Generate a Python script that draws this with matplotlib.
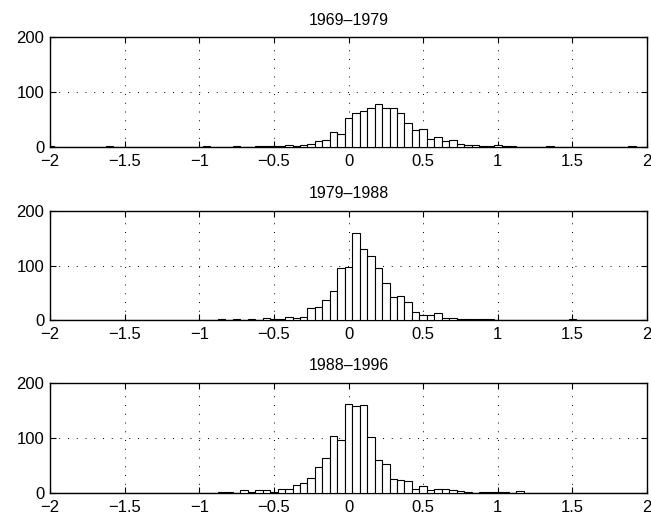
import numpy as np
import matplotlib
matplotlib.use("Agg")
import matplotlib.pyplot as plt

plt.rcParams['font.family'] = ['Liberation Sans', 'DejaVu Sans']

# histogram counts, bin centres -2:0.05:2 (81 bins)
counts_1969_1979 = [
    1, 0, 0, 0, 0, 0, 0, 0, 1, 0,
    0, 0, 0, 0, 0, 0, 0, 0, 0, 0,
    0, 1, 0, 0, 0, 1, 0, 0, 1, 1,
    2, 2, 3, 1, 4, 5, 11, 13, 27, 24,
    52, 61, 66, 71, 78, 71, 70, 61, 44, 31,
    33, 14, 19, 11, 12, 6, 3, 3, 1, 1,
    4, 1, 1, 0, 0, 0, 0, 1, 0, 0,
    0, 0, 0, 0, 0, 0, 0, 0, 1, 0,
    0]
counts_1979_1988 = [
    0, 0, 0, 0, 0, 0, 0, 0, 0, 0,
    0, 0, 0, 0, 0, 0, 0, 1, 1, 1,
    0, 1, 0, 2, 0, 2, 0, 2, 0, 5,
    2, 3, 6, 5, 6, 22, 24, 37, 53, 95,
    97, 160, 131, 118, 96, 69, 42, 44, 33, 16,
    10, 9, 13, 4, 5, 3, 2, 3, 2, 2,
    1, 0, 0, 1, 1, 0, 0, 0, 0, 1,
    2, 0, 1, 0, 0, 0, 0, 0, 0, 0,
    0]
counts_1988_1996 = [
    0, 0, 0, 0, 0, 0, 0, 0, 0, 0,
    0, 0, 0, 0, 0, 0, 0, 0, 0, 0,
    0, 0, 0, 1, 1, 0, 5, 1, 5, 6,
    2, 7, 8, 14, 18, 28, 48, 64, 103, 97,
    161, 158, 159, 101, 59, 52, 25, 23, 21, 7,
    13, 6, 7, 8, 5, 3, 1, 0, 2, 2,
    2, 2, 0, 3, 0, 0, 0, 0, 0, 0,
    0, 0, 0, 0, 0, 0, 0, 0, 0, 0,
    0]
titles = ['1969\u20131979', '1979\u20131988', '1988\u20131996']
x_ticks = [-2, -1.5, -1, -0.5, 0, 0.5, 1, 1.5, 2]
x_ticklabels = ['\u22122', '\u22121.5', '\u22121', '\u22120.5', '0', '0.5', '1', '1.5', '2']
y_ticks = [0, 100, 200]

centres = np.round(np.arange(81) * 0.05 - 2, 2)
bin_w = 0.05

fig = plt.figure(figsize=(6.51, 5.19), dpi=100)
# axes boxes (left, bottom, width, height)
boxes = [(0.0768, 0.7168, 0.9171, 0.2119),
         (0.0768, 0.3828, 0.9171, 0.2112),
         (0.0768, 0.0501, 0.9171, 0.2125)]

for box, counts, title in zip(boxes, [counts_1969_1979, counts_1979_1988, counts_1988_1996], titles):
    ax = fig.add_axes(box)
    ax.bar(centres, counts, width=bin_w, color='white', edgecolor='black', linewidth=0.8, zorder=3)
    ax.set_xlim(-2, 2)
    ax.set_ylim(0, 200)
    ax.set_xticks(x_ticks)
    ax.set_xticklabels(x_ticklabels)
    ax.set_yticks(y_ticks)
    ax.grid(True, linestyle=(0, (1, 8)), color='black', linewidth=0.7, zorder=0)
    ax.tick_params(direction='in', length=4, width=0.8, top=True, right=True,
                   labelsize=12)
    ax.tick_params(axis='x', pad=5)
    ax.tick_params(axis='y', pad=4)
    for s in ax.spines.values():
        s.set_linewidth(1.0)
    ax.set_title(title, fontsize=11.5, pad=9)

fig.savefig('out.png', dpi=100)
